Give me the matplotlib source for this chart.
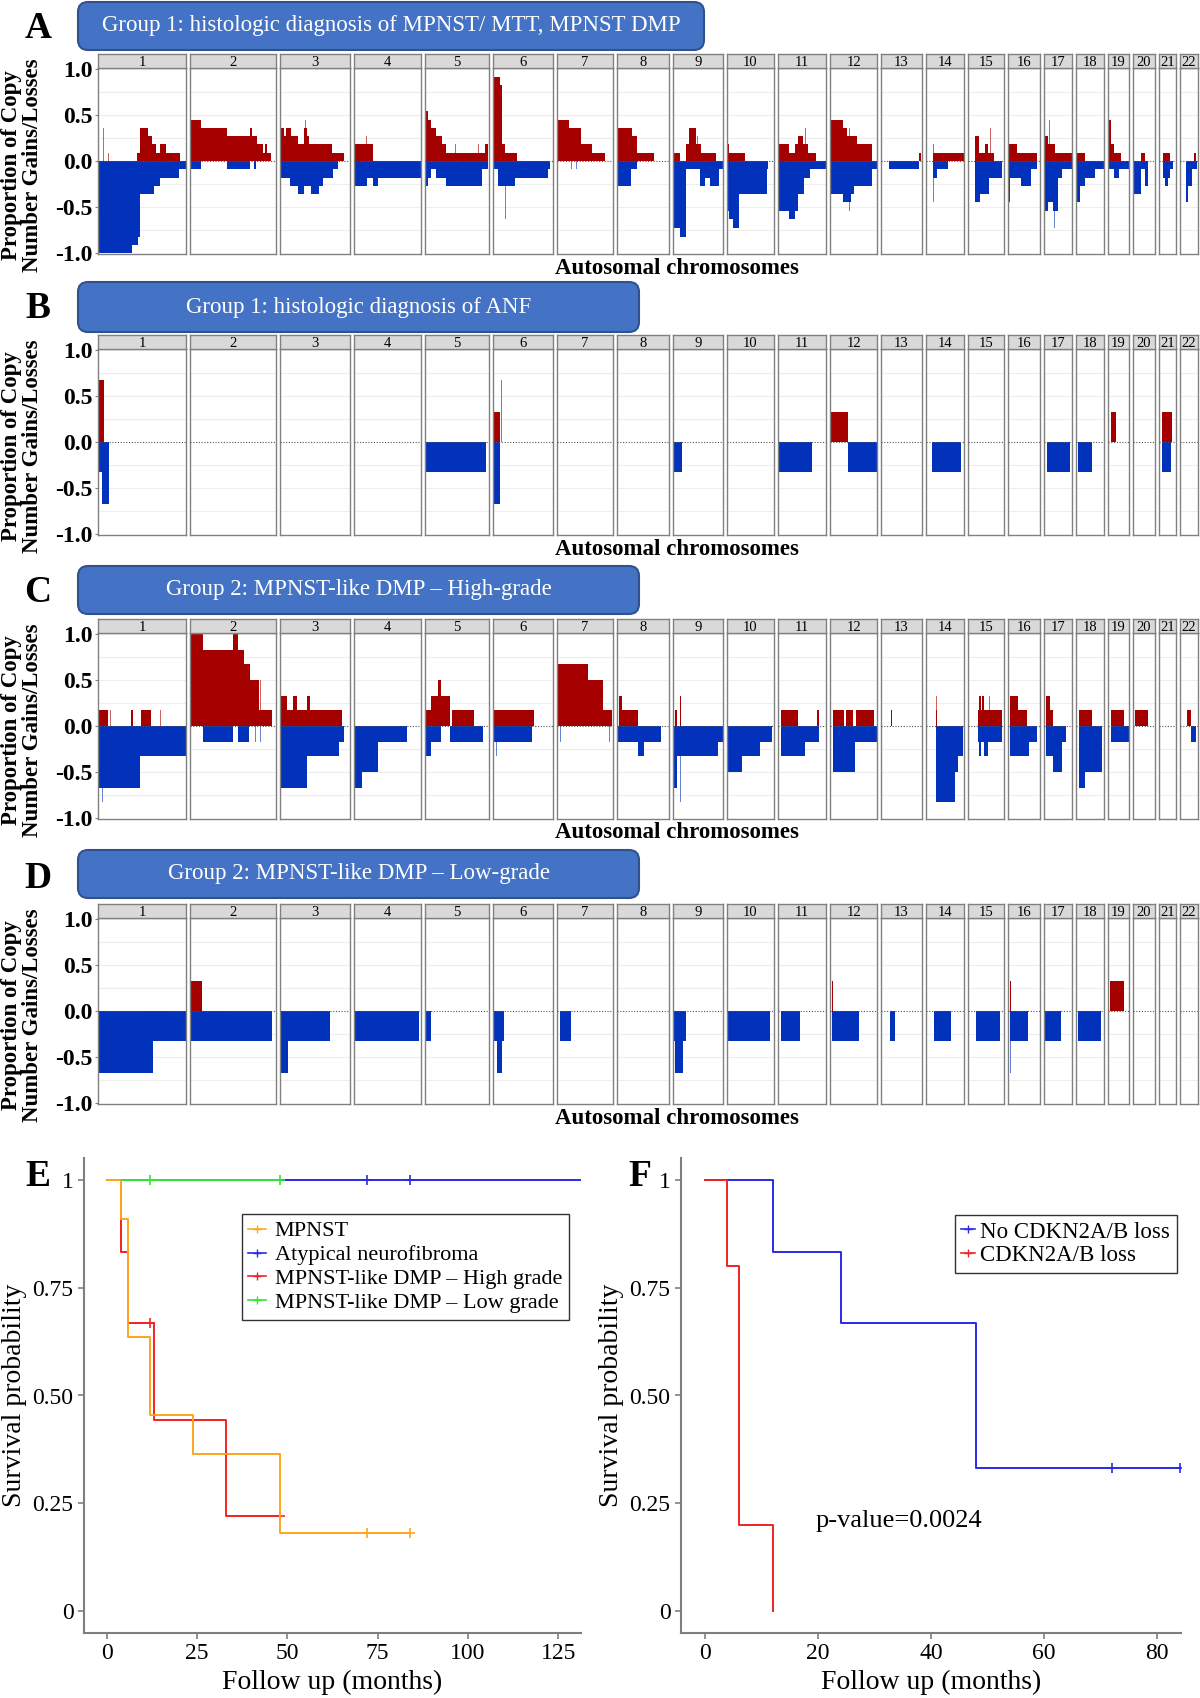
import matplotlib
matplotlib.use("Agg")
import matplotlib.pyplot as plt
from matplotlib.patches import FancyBboxPatch
from matplotlib.lines import Line2D

plt.rcParams['font.family'] = ['Liberation Serif', 'DejaVu Serif']

W, H = 1200, 1698

# chromosome lengths (Mb, hg19) -> facet widths
CHROM_LEN = [249.3, 243.2, 198.0, 191.2, 180.9, 171.1, 159.1, 146.4, 141.2, 135.5, 135.0,
             133.9, 115.2, 107.3, 102.5, 90.4, 81.2, 78.1, 59.1, 63.0, 48.1, 51.3]
CHROMS = [str(i) for i in range(1, 23)]

# segments: (chromosome, start Mb, end Mb, proportion)
A_GAIN = [
    (1, 0, 3, 0.09), (1, 15, 16.5, 0.36), (1, 29, 30, 0.09), (1, 110, 120, 0.09), (1, 120, 143, 0.36),
    (1, 143, 152, 0.27), (1, 152, 164, 0.18), (1, 164, 177, 0.09), (1, 177, 192, 0.18), (1, 192, 232, 0.09),
    (2, 0, 31, 0.45), (2, 31, 105, 0.36), (2, 105, 170, 0.27), (2, 170, 175, 0.36), (2, 175, 189, 0.27),
    (2, 189, 206, 0.18), (2, 206, 214, 0.09), (2, 214, 219, 0.18), (2, 219, 230, 0.09),
    (3, 0, 13, 0.36), (3, 13, 18.5, 0.27), (3, 18.5, 31.5, 0.36), (3, 31.5, 51, 0.27), (3, 51, 70, 0.18),
    (3, 70, 77, 0.36), (3, 73, 74, 0.45), (3, 77, 84, 0.27), (3, 84, 149, 0.18), (3, 149, 182, 0.09),
    (4, 0, 55, 0.18), (4, 36, 37, 0.27), (4, 47, 48, 0.27),
    (5, 0, 7.5, 0.54), (5, 7.5, 16, 0.45), (5, 16, 32, 0.36), (5, 32, 48, 0.27), (5, 48, 59, 0.18),
    (5, 59, 170, 0.09), (5, 85, 87, 0.18), (5, 150, 152, 0.18), (5, 170, 178, 0.18),
    (6, 0, 20, 0.91), (6, 20, 25, 0.82), (6, 25, 34, 0.18), (6, 34, 69, 0.09),
    (7, 0, 33, 0.45), (7, 33, 67, 0.36), (7, 67, 98, 0.18), (7, 98, 137, 0.09),
    (8, 0, 41, 0.36), (8, 41, 57, 0.27), (8, 48, 49, 0.45), (8, 57, 103, 0.09),
    (9, 0, 20, 0.09), (9, 37, 45.5, 0.18), (9, 45.5, 65.5, 0.36), (9, 65.5, 79, 0.18), (9, 70, 71, 0.27),
    (9, 79, 123, 0.09),
    (10, 0, 7.7, 0.18), (10, 7.7, 51, 0.09), (10, 40, 41, 0.27), (10, 117, 118, 0.09),
    (11, 0, 30, 0.18), (11, 30, 46, 0.09), (11, 46, 57, 0.18), (11, 57, 71, 0.27), (11, 71, 84.5, 0.18),
    (11, 76, 77, 0.36), (11, 84.5, 106.5, 0.09),
    (12, 0, 38, 0.45), (12, 38, 47, 0.36), (12, 47, 77, 0.27), (12, 55, 57, 0.36), (12, 77, 120, 0.18),
    (13, 32, 33, 0.09), (13, 76, 77, 0.09), (13, 106, 114, 0.09),
    (14, 20.7, 107, 0.09), (14, 21, 22, 0.18),
    (15, 20.7, 31.6, 0.27), (15, 31.6, 75, 0.09), (15, 48, 59, 0.18), (15, 64, 66, 0.36),
    (16, 0, 25.5, 0.18), (16, 3, 4.5, 0.27), (16, 25.5, 84, 0.09),
    (17, 0, 10.8, 0.27), (17, 10.8, 32.5, 0.18), (17, 15, 16.5, 0.45), (17, 32.5, 79, 0.09),
    (18, 0, 24.5, 0.09), (18, 16, 17, 0.27),
    (19, 0, 7.5, 0.45), (19, 7.5, 18, 0.18), (19, 18, 37.6, 0.09),
    (20, 23, 36, 0.09), (20, 28, 29, 0.18),
    (21, 10.7, 30, 0.09),
    (22, 19, 20, 0.09), (22, 39, 47, 0.09),
]
A_LOSS = [
    (1, 0, 95, -1.0), (1, 95, 113, -0.91), (1, 113, 120, -0.82), (1, 120, 159, -0.36), (1, 159, 176, -0.27),
    (1, 176, 230, -0.18), (1, 230, 249, -0.09),
    (2, 0, 31, -0.09), (2, 34, 35, -0.18), (2, 105, 170, -0.09), (2, 183, 186, -0.09),
    (3, 0, 29, -0.18), (3, 29, 51, -0.27), (3, 51, 70, -0.36), (3, 70, 89, -0.27), (3, 89, 111, -0.36),
    (3, 111, 122, -0.27), (3, 122, 151, -0.18), (3, 151, 165, -0.09),
    (4, 0, 38, -0.27), (4, 1, 2, -0.36), (4, 38, 55, -0.18), (4, 55, 69, -0.27), (4, 69, 191, -0.18),
    (5, 0, 7.5, -0.27), (5, 7.5, 16, -0.18), (5, 16, 32, -0.09), (5, 32, 59, -0.18), (5, 59, 161, -0.27),
    (5, 161, 178, -0.09),
    (6, 0, 14, -0.09), (6, 14, 64, -0.27), (6, 36, 37, -0.63), (6, 64, 157, -0.18), (6, 157, 162, -0.09),
    (7, 40, 41, -0.09), (7, 55, 56, -0.09), (7, 75, 76, -0.09),
    (8, 0, 39, -0.27), (8, 39, 57, -0.09), (8, 50, 51, -0.18),
    (9, 0, 20, -0.73), (9, 20, 37, -0.82), (9, 37, 76.5, -0.09), (9, 76.5, 90, -0.27), (9, 90, 106.5, -0.18),
    (9, 106.5, 132, -0.27), (9, 132, 141, -0.09),
    (10, 0, 7.7, -0.54), (10, 7.7, 18.6, -0.63), (10, 18.6, 35, -0.73), (10, 35, 113.6, -0.36),
    (10, 113.6, 117, -0.09),
    (11, 0, 30, -0.54), (11, 30, 48, -0.63), (11, 48, 57, -0.54), (11, 57, 73.6, -0.36), (11, 73.6, 90, -0.18),
    (11, 90, 135, -0.09),
    (12, 0, 38, -0.36), (12, 38, 60, -0.45), (12, 55, 56, -0.54), (12, 60, 68.6, -0.36), (12, 68.6, 120, -0.27),
    (12, 120, 132, -0.09),
    (13, 21.7, 106, -0.09),
    (14, 20.7, 30.6, -0.18), (14, 21, 22, -0.45), (14, 30.6, 63, -0.09),
    (15, 20.7, 35, -0.45), (15, 35, 61, -0.36), (15, 61, 97, -0.18),
    (16, 0, 7.4, -0.45), (16, 3, 4, -0.54), (16, 7.4, 36, -0.18), (16, 36, 65, -0.27), (16, 65, 84, -0.09),
    (17, 0, 10.8, -0.54), (17, 10.8, 25, -0.45), (17, 25, 40, -0.54), (17, 30, 31, -0.73), (17, 40, 51, -0.18),
    (17, 51, 81, -0.09),
    (18, 0, 11, -0.45), (18, 11, 24.5, -0.27), (18, 24.5, 52, -0.18), (18, 52, 78, -0.09),
    (19, 0, 18, -0.09), (19, 5, 6, -0.18), (19, 18, 31, -0.18), (19, 31, 59, -0.09),
    (20, 0, 23, -0.36), (20, 23, 36, -0.09), (20, 36, 44.5, -0.27),
    (21, 10.7, 16, -0.18), (21, 16, 26.7, -0.27), (21, 26.7, 30, -0.18), (21, 30, 40.5, -0.09),
    (22, 16.4, 23.6, -0.45), (22, 23.6, 34, -0.27), (22, 34, 49, -0.09),
]
B_GAIN = [
    (1, 0, 18, 0.67), (6, 0, 22, 0.33), (6, 24, 25, 0.67), (12, 0, 52, 0.33), (16, 3, 4, 0.67),
    (17, 3, 5, 0.33), (19, 8, 22, 0.33), (21, 10, 38, 0.33),
]
B_LOSS = [
    (1, 0, 10, -0.33), (1, 10, 32, -0.67), (5, 0, 172, -0.33), (6, 0, 22, -0.67), (9, 0, 25, -0.33),
    (11, 0, 95, -0.33), (12, 52, 132, -0.33), (14, 18, 100, -0.33), (16, 3, 4, -0.67), (17, 8, 75, -0.33),
    (18, 4, 44, -0.33), (21, 10, 34, -0.33),
]
C_GAIN = [
    (1, 0, 27, 0.17), (1, 17, 18, 0.33), (1, 30, 31, 0.17), (1, 35, 36, 0.17), (1, 93, 100, 0.17),
    (1, 122, 150, 0.17), (1, 177, 178, 0.17),
    (2, 0, 38, 1.0), (2, 38, 123, 0.83), (2, 123, 137, 1.0), (2, 137, 153, 0.83), (2, 153, 170, 0.67),
    (2, 170, 197, 0.5), (2, 197, 232, 0.17), (2, 200, 201, 0.5),
    (3, 0, 20.7, 0.33), (3, 20.7, 37, 0.17), (3, 37, 48, 0.33), (3, 48, 78, 0.17), (3, 78, 86, 0.33),
    (3, 86, 178, 0.17),
    (4, 67, 68, 0.17), (4, 152, 153, 0.17),
    (5, 0, 16, 0.17), (5, 16, 70, 0.33), (5, 38, 46, 0.5), (5, 78, 138, 0.17),
    (6, 3, 117, 0.17),
    (7, 3, 88, 0.67), (7, 88, 130, 0.5), (7, 130, 155, 0.17),
    (8, 5.6, 14, 0.33), (8, 14, 59, 0.17),
    (9, 5.5, 13, 0.17), (9, 19, 22, 0.33),
    (11, 7, 57, 0.17), (11, 90, 91, 0.17), (11, 110, 115, 0.17),
    (12, 8.6, 38.8, 0.17), (12, 45, 65, 0.17), (12, 72.8, 124, 0.17),
    (13, 28, 31, 0.17),
    (14, 28, 31, 0.17), (14, 30, 31, 0.33),
    (15, 28, 97, 0.17), (15, 31, 37, 0.33), (15, 42, 45, 0.33), (15, 61, 63, 0.33),
    (16, 7, 30, 0.33), (16, 30, 55, 0.17),
    (17, 5.6, 18, 0.33), (17, 18, 27, 0.17), (17, 37, 38, 0.17), (17, 55, 56, 0.17),
    (18, 7.8, 44.7, 0.17), (18, 69, 70, 0.17),
    (19, 8.4, 47, 0.17),
    (20, 5.7, 43, 0.17),
    (21, 16, 18, 0.17),
    (22, 21, 31, 0.17),
]
C_LOSS = [
    (1, 0, 120, -0.67), (1, 12, 14, -0.83), (1, 120, 249, -0.33),
    (2, 38, 123, -0.17), (2, 90, 91, -0.33), (2, 137, 167, -0.17), (2, 185, 186, -0.17), (2, 200, 201, -0.17),
    (3, 0, 77, -0.67), (3, 77, 167, -0.33), (3, 167, 183, -0.17), (3, 184, 186, -0.33),
    (4, 0, 24, -0.67), (4, 24, 70, -0.5), (4, 70, 153, -0.17),
    (5, 0, 16, -0.33), (5, 16, 45, -0.17), (5, 72, 165, -0.17), (5, 74, 75, -0.33), (5, 135, 136, -0.33),
    (6, 3, 112, -0.17), (6, 10, 11, -0.33), (6, 20, 21, -0.33),
    (7, 9, 10, -0.17), (7, 147, 149, -0.17),
    (8, 0, 59, -0.17), (8, 59, 76, -0.33), (8, 76, 124, -0.17),
    (9, 0, 13, -0.67), (9, 14, 16, -0.83), (9, 21, 23, -0.83), (9, 13, 128, -0.33), (9, 128, 141, -0.17),
    (10, 5, 43, -0.5), (10, 43, 95, -0.33), (10, 95, 130, -0.17),
    (11, 7, 75, -0.33), (11, 75, 115, -0.17),
    (12, 8.6, 70, -0.5), (12, 37, 38, -0.67), (12, 70, 134, -0.17),
    (14, 28, 82, -0.83), (14, 28, 29, -1.0), (14, 82, 92, -0.5), (14, 92, 104, -0.33),
    (15, 28, 97, -0.17), (15, 31, 39, -0.33), (15, 47, 58, -0.33), (15, 34, 35, -0.5), (15, 52, 53, -0.5),
    (16, 7, 60, -0.33), (16, 15, 16, -0.5), (16, 40, 41, -0.5), (16, 60, 83, -0.17),
    (17, 5.6, 27, -0.33), (17, 27, 53, -0.5), (17, 53, 64, -0.17),
    (18, 7.8, 24, -0.67), (18, 10, 11, -0.83), (18, 24, 73, -0.5),
    (19, 8.4, 59, -0.17),
    (22, 31, 47, -0.17),
]
D_GAIN = [
    (2, 0, 35, 0.33), (6, 2, 4, 0.33), (12, 5, 8, 0.33), (16, 5, 8, 0.33), (19, 5.6, 46, 0.33),
]
D_LOSS = [
    (1, 0, 155, -0.67), (1, 155, 249, -0.33), (2, 0, 232, -0.33), (2, 37, 38, -0.67),
    (3, 0, 142, -0.33), (3, 0, 24, -0.67), (4, 0, 186, -0.33), (5, 0, 17, -0.33),
    (6, 3, 31, -0.33), (6, 12, 25, -0.67), (7, 7, 39, -0.33), (9, 3, 37, -0.33), (9, 5, 30, -0.67),
    (10, 3, 124, -0.33), (11, 6, 60, -0.33), (12, 6, 81, -0.33), (13, 24, 39, -0.33),
    (14, 22, 70, -0.33), (15, 25, 92, -0.33), (16, 5, 57, -0.33), (16, 7, 8, -0.67),
    (17, 4, 49, -0.33), (18, 4.5, 71, -0.33),
]

PANEL_LETTERS = ["A", "B", "C", "D"]
PANEL_TITLES = ["Group 1: histologic diagnosis of MPNST/ MTT, MPNST DMP",
                "Group 1: histologic diagnosis of ANF",
                "Group 2: MPNST-like DMP \u2013 High-grade",
                "Group 2: MPNST-like DMP \u2013 Low-grade"]
CN_YTICKS = [-1.0, -0.5, 0.0, 0.5, 1.0]
CN_YTICKLABELS = ["-1.0", "-0.5", "0.0", "0.5", "1.0"]

# Kaplan-Meier data (event times, survival after each step, last follow-up, censor times)
E_NAMES = ["MPNST", "Atypical neurofibroma", "MPNST-like DMP \u2013 High grade", "MPNST-like DMP \u2013 Low grade"]
E_TIMES = [[0, 4, 6, 12, 24, 48], [0], [0, 4, 6, 13, 33], [0]]
E_SURV = [[1.0, 0.909, 0.636, 0.455, 0.364, 0.182], [1.0], [1.0, 0.833, 0.667, 0.444, 0.222], [1.0]]
E_END = [84, 131, 48, 48]
E_CENS = [[72, 84], [72, 84], [12, 48], [12, 48]]
E_COLORS = ["#FFA51F", "#2A2AE6", "#F22222", "#33E633"]

F_NAMES = ["No CDKN2A/B loss", "CDKN2A/B loss"]
F_TIMES = [[0, 12, 24, 48], [0, 4, 6, 12]]
F_SURV = [[1.0, 0.833, 0.667, 0.333], [1.0, 0.8, 0.2, 0.0]]
F_END = [84, 12]
F_CENS = [[72, 84], []]
F_COLORS = ["#2A2AE6", "#F22222"]

RED = "#A50000"
BLUE = "#0232BC"

fig = plt.figure(figsize=(12, 16.98), dpi=100)


def fx(x):
    return x / W


def fy(y):
    return 1 - y / H


gap = 4
scale = (1100 - gap * 21) / sum(CHROM_LEN)
panels = [(A_GAIN, A_LOSS), (B_GAIN, B_LOSS), (C_GAIN, C_LOSS), (D_GAIN, D_LOSS)]
plot_tops = [68, 349, 633, 918]
box_px = [(2, 50, 704), (282, 332, 639), (566, 614, 639), (850, 898, 639)]
plot_h = 186
strip_h = 14

for p in range(4):
    top = plot_tops[p]
    bottom = top + plot_h
    gains, losses = panels[p]
    x = 98
    for c in range(22):
        w = CHROM_LEN[c] * scale
        ax = fig.add_axes([fx(x), fy(bottom), w / W, plot_h / H])
        for g in [-0.75, -0.5, -0.25, 0.25, 0.5, 0.75]:
            ax.axhline(g, color="#EDEDED", lw=0.8, zorder=0)
        for seg in gains + losses:
            if seg[0] == c + 1:
                col = RED if seg[3] > 0 else BLUE
                thin = seg[2] - seg[1] <= 2
                ax.bar(seg[1], seg[3], width=seg[2] - seg[1], align="edge", color=col,
                       linewidth=0, alpha=0.6 if thin else 1.0, zorder=2)
        ax.axhline(0, color="#555555", lw=0.8, ls=(0, (1, 1.5)), zorder=3)
        ax.set_xlim(0, CHROM_LEN[c])
        ax.set_ylim(-1.01, 1.01)
        ax.set_xticks([])
        for s in ax.spines.values():
            s.set_color("#808080")
            s.set_linewidth(1.0)
        if c == 0:
            ax.set_yticks(CN_YTICKS)
            ax.set_yticklabels(CN_YTICKLABELS, fontsize=17, fontweight="bold")
            ax.tick_params(axis="y", length=2, pad=2, color="#808080")
        else:
            ax.set_yticks([])
        sax = fig.add_axes([fx(x), fy(top), w / W, strip_h / H])
        sax.set_facecolor("#D9D9D9")
        sax.set_xticks([])
        sax.set_yticks([])
        for s in sax.spines.values():
            s.set_color("#808080")
            s.set_linewidth(1.0)
        sax.text(0.5, 0.42, CHROMS[c], ha="center", va="center", fontsize=10.5, transform=sax.transAxes)
        x += w + gap

    # y label and x title
    fig.text(fx(22), fy(top + plot_h / 2 + 4), "Proportion of Copy\nNumber Gains/Losses", rotation=90,
             ha="center", va="center", fontsize=16.5, fontweight="bold", linespacing=0.95)
    fig.text(fx(677), fy(bottom + 14), "Autosomal chromosomes", ha="center", va="center",
             fontsize=16.5, fontweight="bold")

    # group title box
    y0, y1, x1 = box_px[p]
    box = FancyBboxPatch((78 / 100, (H - y1) / 100), (x1 - 78) / 100, (y1 - y0) / 100,
                         boxstyle="round,pad=0,rounding_size=0.1", transform=fig.dpi_scale_trans,
                         facecolor="#4472C4", edgecolor="#2F528F", lw=1.5)
    fig.patches.append(box)
    fig.text(fx((78 + x1) / 2), fy((y0 + y1) / 2), PANEL_TITLES[p], ha="center", va="center",
             color="white", fontsize=16.5)
    fig.text(fx(38), fy(top - 40), PANEL_LETTERS[p], ha="center", va="center", fontsize=27,
             fontweight="bold")


def km(ax, times, surv, end, cens, color, label):
    xs = list(times) + [end]
    ys = list(surv) + [surv[-1]]
    ax.step(xs, ys, where="post", color=color, lw=1.4)
    cy = []
    for t in cens:
        v = surv[0]
        for ti, si in zip(times, surv):
            if ti <= t:
                v = si
        cy.append(v)
    if cens:
        ax.plot(cens, cy, "+", color=color, ms=7, mew=1.2, ls="none")
    return Line2D([], [], color=color, lw=1.2, marker="+", ms=6, mew=1.0, label=label)


def style_km(ax):
    for s in ["top", "right"]:
        ax.spines[s].set_visible(False)
    for s in ["left", "bottom"]:
        ax.spines[s].set_color("#7F7F7F")
        ax.spines[s].set_linewidth(1.5)
    ax.tick_params(colors="#7F7F7F", labelcolor="black", labelsize=17, length=4, width=1.2)
    ax.set_ylim(-0.05, 1.05)
    ax.set_yticks([0, 0.25, 0.5, 0.75, 1.0])
    ax.set_yticklabels(["0", "0.25", "0.50", "0.75", "1"])
    ax.set_ylabel("Survival probability", fontsize=20)
    ax.set_xlabel("Follow up (months)", fontsize=20)


axE = fig.add_axes([fx(84), fy(1633), 497 / W, 475 / H])
order = [1, 3, 2, 0]
hmap = {}
for i in order:
    hmap[i] = km(axE, E_TIMES[i], E_SURV[i], E_END[i], E_CENS[i], E_COLORS[i], E_NAMES[i])
handles = [hmap[i] for i in range(4)]
style_km(axE)
axE.set_xlim(-6.25, 131.25)
axE.set_xticks([0, 25, 50, 75, 100, 125])
legE = axE.legend(handles=handles, loc="upper right", bbox_to_anchor=(0.998, 0.905), fontsize=16,
                  frameon=True, fancybox=False, edgecolor="black", handlelength=0.8, handletextpad=0.4,
                  borderpad=0.3, labelspacing=0.15)
legE.get_frame().set_linewidth(1.0)
fig.text(fx(38), fy(1177), "E", ha="center", va="center", fontsize=27, fontweight="bold")

axF = fig.add_axes([fx(681), fy(1633), 500 / W, 475 / H])
fh = []
for i in range(2):
    fh.append(km(axF, F_TIMES[i], F_SURV[i], F_END[i], F_CENS[i], F_COLORS[i], F_NAMES[i]))
style_km(axF)
axF.set_xlim(-4.2, 84.2)
axF.set_xticks([0, 20, 40, 60, 80])
legF = axF.legend(handles=fh, loc="upper right", bbox_to_anchor=(1.014, 0.905), fontsize=16.5,
                  frameon=True, fancybox=False, edgecolor="black", handlelength=0.6, handletextpad=0.2,
                  borderpad=0.3, labelspacing=0.1)
legF.get_frame().set_linewidth(1.0)
axF.text(19.5, 0.21, "p-value=0.0024", fontsize=19, ha="left", va="center")
fig.text(fx(640), fy(1177), "F", ha="center", va="center", fontsize=27, fontweight="bold")

fig.savefig("out.png", dpi=100)
